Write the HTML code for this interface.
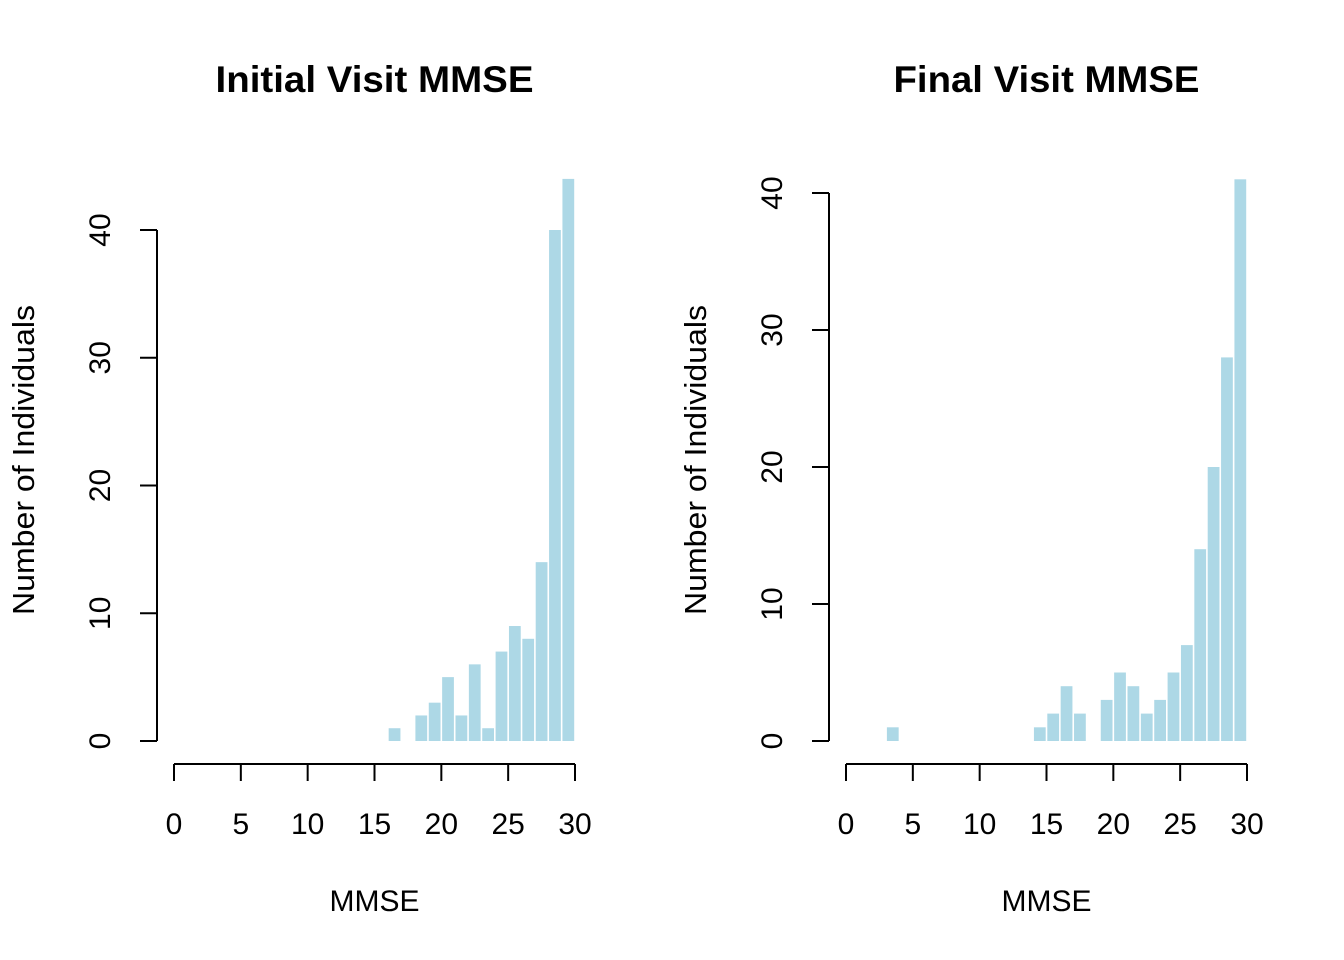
<!DOCTYPE html>
<html><head><meta charset="utf-8">
<style>
html,body{margin:0;padding:0;background:#fff;}
svg{display:block;font-family:"Liberation Sans",Arial,sans-serif;}
</style></head>
<body>
<svg id="chart" width="1344" height="960" viewBox="0 0 1344 960"></svg>
<script>
const binStarts = [0,1,2,3,4,5,6,7,8,9,10,11,12,13,14,15,16,17,18,19,20,21,22,23,24,25,26,27,28,29];
const initialCounts = [0,0,0,0,0,0,0,0,0,0,0,0,0,0,0,0,1,0,2,3,5,2,6,1,7,9,8,14,40,44];
const finalCounts = [0,0,0,1,0,0,0,0,0,0,0,0,0,0,1,2,4,2,0,3,5,4,2,3,5,7,14,20,28,41];
const xTicks = [0,5,10,15,20,25,30];
const yTicks = [0,10,20,30,40];

const NS = "http://www.w3.org/2000/svg";
const svg = document.getElementById('chart');
function mk(tag, attrs, parent){
  const e = document.createElementNS(NS, tag);
  for (const k in attrs) e.setAttribute(k, attrs[k]);
  (parent||svg).appendChild(e);
  return e;
}

function panel(cfg){
  const g = mk('g', {});
  
  
  const sx = v => cfg.x0 + (v - 0) * (cfg.x30 - cfg.x0) / 30;
  const sy = v => cfg.y0 - v * (cfg.y0 - cfg.y40) / 40;
  binStarts.forEach((b, i) => {
    const c = cfg.counts[i];
    if (c <= 0) return;
    const r = mk('rect', {x: sx(b) + 0.8, y: sy(c), width: sx(b+1) - sx(b) - 1.6, height: sy(0) - sy(c), fill: '#add8e6'}, g);
    
    
  });
  const t = mk('text', {x: (cfg.x0 + cfg.x30) / 2, y: 92, 'text-anchor': 'middle', 'font-size': 37, 'font-weight': 'bold', textLength: cfg.titleLen, lengthAdjust: 'spacingAndGlyphs'}, g);
  t.textContent = cfg.title;
  
  
  const xa = mk('g', {}, g);
  
  
  mk('line', {x1: sx(0), x2: sx(30), y1: 764, y2: 764, stroke: '#000', 'stroke-width': 2}, xa);
  xTicks.forEach(v => {
    mk('line', {x1: sx(v), x2: sx(v), y1: 764, y2: 781, stroke: '#000', 'stroke-width': 2}, xa);
    const l = mk('text', {x: sx(v), y: 834, 'text-anchor': 'middle', 'font-size': 30}, xa);
    l.textContent = v;
    
    
  });
  const xt = mk('text', {x: (cfg.x0 + cfg.x30) / 2, y: 911, 'text-anchor': 'middle', 'font-size': 30}, g);
  xt.textContent = 'MMSE';
  
  
  const ya = mk('g', {}, g);
  
  
  mk('line', {x1: cfg.ax, x2: cfg.ax, y1: sy(0), y2: sy(40), stroke: '#000', 'stroke-width': 2}, ya);
  yTicks.forEach(v => {
    mk('line', {x1: cfg.ax - 17, x2: cfg.ax, y1: sy(v), y2: sy(v), stroke: '#000', 'stroke-width': 2}, ya);
    const lx = cfg.ax - 57, ly = sy(v);
    const l = mk('text', {x: lx, y: ly, 'text-anchor': 'middle', 'font-size': 30, transform: `rotate(-90 ${lx} ${ly})`, dy: 10}, ya);
    l.textContent = v;
    
    
  });
  const yx = cfg.ax - 133, yy = 460;
  const yt = mk('text', {x: yx, y: yy, 'text-anchor': 'middle', 'font-size': 31, transform: `rotate(-90 ${yx} ${yy})`, dy: 10, textLength: 310, lengthAdjust: 'spacingAndGlyphs'}, g);
  yt.textContent = 'Number of Individuals';
  
  
}

panel({name: 'initial-visit-panel', title: 'Initial Visit MMSE', titleLen: 318, counts: initialCounts, x0: 174, x30: 575, y0: 741, y40: 230, ax: 157});
panel({name: 'final-visit-panel', title: 'Final Visit MMSE', titleLen: 306, counts: finalCounts, x0: 846, x30: 1247, y0: 741, y40: 193, ax: 829});
</script>
</body></html>
